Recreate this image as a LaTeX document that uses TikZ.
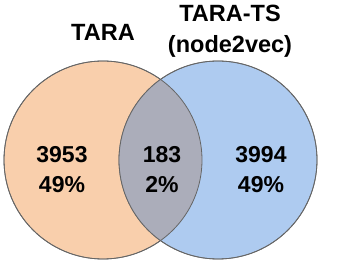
\documentclass[tikz,border=0pt]{standalone}
\usepackage{fontspec}
\setmainfont{Liberation Sans}
\usetikzlibrary{positioning}
\definecolor{taraorange}{HTML}{F9CFAC}
\definecolor{tsblue}{HTML}{AECBF0}
\definecolor{overlapgray}{HTML}{ABADBA}
\definecolor{edgegray}{HTML}{666666}
\tikzset{
  setcircle/.style={
    circle, draw=edgegray, line width=0.8pt, fill=#1,
    minimum size=198pt, inner sep=0pt
  },
  settitle/.style={
    align=center, inner sep=0pt,
    font=\fontsize{23.5}{31}\selectfont\bfseries
  },
  count/.style={
    align=center, inner sep=0pt,
    font=\fontsize{23}{30}\selectfont\bfseries
  }
}

\begin{document}
\begin{tikzpicture}[x=1pt, y=-1pt]
  \useasboundingbox (0,0) rectangle (353,264);
  % the two sets
  \node[setcircle=taraorange] (tara) at (103,160) {};
  \node[setcircle=tsblue] (ts) at (218,160) {};
  % overlap
  \begin{scope}
    \clip (tara.center) circle[radius=99pt];
    \fill[overlapgray] (ts.center) circle[radius=99pt];
  \end{scope}
  \draw[edgegray, line width=0.8pt] (tara.center) circle[radius=99pt];
  \draw[edgegray, line width=0.8pt] (ts.center) circle[radius=99pt];
  % titles
  \node[settitle] (taratitle) at (103,32) {TARA};
  \node[settitle] (tstitle) at (230,31) {TARA-TS\\(node2vec)};
  % counts
  \node[count] (onlytara) at (62,170) {3953\\49\%};
  \node[count] (both) at (162,170) {183\\2\%};
  \node[count] (onlyts) at (261,170) {3994\\49\%};
\end{tikzpicture}
\end{document}
